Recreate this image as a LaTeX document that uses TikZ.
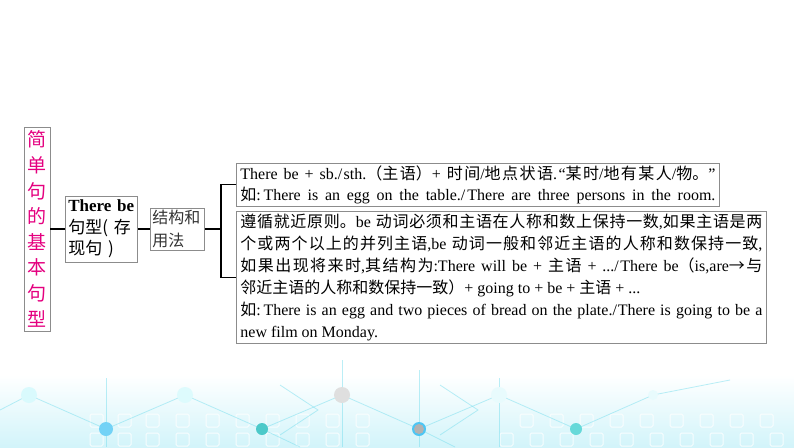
\documentclass[tikz,border=0pt]{standalone}
\usepackage{fontspec}
\setmainfont{Liberation Serif}
\newfontfamily\cjk{Noto Sans CJK SC}
\newcommand\zh[1]{{\cjk #1}}
\XeTeXlinebreaklocale "zh"
\XeTeXlinebreakskip=0pt plus 1.5pt
\definecolor{titlepink}{RGB}{228,0,127}
\definecolor{boxgray}{RGB}{140,140,140}
\definecolor{bgcyan}{RGB}{210,244,250}
\definecolor{linecyan}{RGB}{120,222,238}
\begin{document}
\begin{tikzpicture}[x=1pt,y=1pt,
  box/.style={draw=boxgray,line width=0.8pt,inner sep=0pt},
  link/.style={black,line width=1.1pt},
  techline/.style={linecyan,line width=0.8pt,opacity=0.5},
  techsq/.style={draw=white,line width=1pt,rounded corners=1.5pt,opacity=0.8}]
\useasboundingbox (0,0) rectangle (794,-447);
\shade[top color=white,bottom color=bgcyan] (0,-375) rectangle (794,-447);
\foreach \x in {90,118,146,176,206,236,266,296,326,356,520,550,580,610,640,670,700,730,760}
  \draw[techsq] (\x,-414) rectangle ++(13,-13);
\foreach \x in {90,118,146,176,206,236,266,296,326,356,500,530,560,590,620,650,680,710,740,770}
  \draw[techsq] (\x,-433) rectangle ++(13,-13);
\draw[techline] (29,-395) -- (106,-429) -- (185,-395) -- (262,-429) -- (342,-395) -- (419,-429) -- (499,-395) -- (576,-429) -- (653,-395) -- (730,-380);
\draw[techline] (0,-410) -- (29,-395);
\draw[techline] (106,-378) -- (106,-447);
\draw[techline] (342,-360) -- (342,-447);
\draw[techline] (419,-370) -- (419,-447);
\draw[techline] (499,-378) -- (499,-447);
\draw[techline] (262,-429) -- (300,-447);
\draw[techline] (419,-429) -- (455,-447);
\draw[techline] (280,-385) -- (318,-410) -- (280,-435);
\draw[techline] (440,-385) -- (478,-410) -- (440,-435);
\fill[bgcyan!85!cyan!50] (29,-395) circle (8);
\fill[bgcyan!85!cyan!45] (185,-395) circle (8);
\fill[gray!25] (342,-395) circle (8);
\fill[bgcyan!90!cyan!35] (499,-395) circle (8);
\fill[bgcyan!90!cyan!35] (653,-395) circle (5);
\fill[cyan!55] (106,-429) circle (7);
\fill[teal!60!cyan!70] (262,-429) circle (6);
\fill[cyan!70] (419,-429) circle (7);
\fill[gray!60] (419,-429) circle (5);
\fill[teal!50!cyan!60] (576,-429) circle (6);
\node[box,minimum width=26,minimum height=204,text=titlepink,align=center,
  font=\cjk\fontsize{19}{25.6}\selectfont] (title) at (37,-229)
  {简\\单\\句\\的\\基\\本\\句\\型};
\node[box,anchor=west,text width=66,minimum height=66,inner xsep=3,align=left,
  font=\fontsize{17}{21.5}\selectfont] (there) at (65,-229)
  {\textbf{There be}\\\zh{句型(~存}\\\zh{现句~)}};
\node[box,anchor=west,text width=50,minimum height=42,inner xsep=2,align=left,
  text=black!80,font=\cjk\fontsize{16}{23}\selectfont] (struct) at (150,-229)
  {结构和\\用法};
\node[box,anchor=north west,text width=475,minimum height=43,inner xsep=4,
  align=justify,font=\fontsize{16}{21}\selectfont] (ex1) at (236,-163)
  {There be + sb./sth.\zh{（主语）}+ \zh{时间}/\zh{地点状语}.“\zh{某时}/\zh{地有某人}/\zh{物。}”\linebreak
  \zh{如}:\,There is an egg on the table./There are three persons in the room.\parfillskip=0pt\par};
\node[box,anchor=north west,text width=522,minimum height=132,inner xsep=4,
  align=justify,font=\fontsize{16}{22}\selectfont] (ex2) at (236,-211)
  {\zh{遵循就近原则。}be \zh{动词必须和主语在人称和数上保持一数},\zh{如果主语是两}\linebreak
  \zh{个或两个以上的并列主语},be \zh{动词一般和邻近主语的人称和数保持一致},\linebreak
  \zh{如果出现将来时},\zh{其结构为}:There will be + \zh{主语} + .../There be\zh{（}is,are\zh{→与}\linebreak
  \zh{邻近主语的人称和数保持一致）}+ going to + be + \zh{主语} + ...\\
  \zh{如}:\,There is an egg and two pieces of bread on the plate./There is going to be a\linebreak
  new film on Monday.};
\coordinate (fork) at (221,-229);
\draw[link] (title) -- (there);
\draw[link] (there) -- (struct);
\draw[link] (struct) -- (fork);
\draw[link] (ex1.west) -| (fork) |- (ex2.west);
\end{tikzpicture}
\end{document}
